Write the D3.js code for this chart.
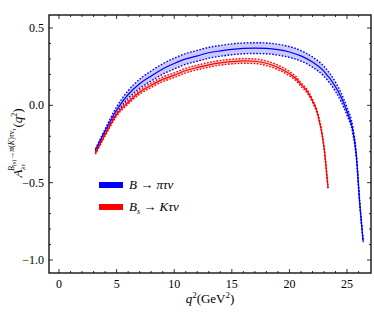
<!DOCTYPE html>
<html>
<head>
<meta charset="utf-8">
<script src="https://cdn.jsdelivr.net/npm/d3@7"></script>
<style>
  body { margin: 0; background: #fff; }
  svg { display: block; font-family: "Liberation Serif", "DejaVu Serif", serif; }
</style>
</head>
<body>
<svg id="chart" width="374" height="312"></svg>
<script>
// B -> pi tau nu
var q2Pi   = [3.16, 4, 5, 6, 7, 8, 9, 10, 11, 12, 13, 14, 15, 16, 17, 18, 19, 20, 21, 22, 23, 24, 24.5, 25, 25.5, 25.8, 26.1, 26.4];
var aPi    = [-0.29, -0.165, -0.03, 0.07, 0.14, 0.19, 0.235, 0.27, 0.30, 0.32, 0.34, 0.352, 0.362, 0.368, 0.37, 0.368, 0.36, 0.345, 0.32, 0.28, 0.22, 0.12, 0.05, -0.04, -0.16, -0.32, -0.63, -0.88];
var errPi  = [0.008, 0.012, 0.02, 0.025, 0.029, 0.032, 0.034, 0.035, 0.035, 0.035, 0.035, 0.035, 0.035, 0.035, 0.035, 0.035, 0.035, 0.035, 0.034, 0.033, 0.032, 0.03, 0.028, 0.025, 0.022, 0.018, 0.012, 0.005];

// Bs -> K tau nu
var q2K    = [3.16, 4, 5, 6, 7, 8, 9, 10, 11, 12, 13, 14, 15, 16, 17, 18, 19, 20, 20.6, 21, 21.5, 22, 22.5, 23, 23.35];
var aK     = [-0.31, -0.19, -0.06, 0.02, 0.085, 0.13, 0.168, 0.195, 0.225, 0.245, 0.262, 0.275, 0.283, 0.287, 0.285, 0.272, 0.245, 0.205, 0.17, 0.135, 0.095, 0.03, -0.07, -0.27, -0.535];
var errK   = [0.006, 0.008, 0.01, 0.012, 0.013, 0.014, 0.015, 0.015, 0.015, 0.015, 0.015, 0.015, 0.015, 0.015, 0.015, 0.015, 0.015, 0.014, 0.013, 0.012, 0.011, 0.01, 0.008, 0.006, 0.004];

var xTicks = [0, 5, 10, 15, 20, 25];
var yTicks = [-1.0, -0.5, 0.0, 0.5];
var legendLabels = ["B → πτν", "Bs → Kτν"];

var svg = d3.select("#chart");
var pL = 49, pR = 371, pT = 15, pB = 273;

var x = d3.scaleLinear().domain([-0.87, 27.08]).range([pL, pR]);
var y = d3.scaleLinear().domain([-1.084, 0.584]).range([pB, pT]);

var plot = svg.append("g");

function drawSeries(q2, a, err, col, fillCol) {
    var pts = q2.map(function(d, i) { return {q: d, a: a[i], e: err[i]}; });
    var area = d3.area().curve(d3.curveMonotoneX)
        .x(function(d) { return x(d.q); })
        .y0(function(d) { return y(d.a - d.e); })
        .y1(function(d) { return y(d.a + d.e); });
    plot.append("path").datum(pts)
        .attr("d", area)
        .style("fill", fillCol)
        .style("stroke", "none");

    var lineUp = d3.line().curve(d3.curveMonotoneX)
        .x(function(d) { return x(d.q); })
        .y(function(d) { return y(d.a + d.e); });
    var lineLo = d3.line().curve(d3.curveMonotoneX)
        .x(function(d) { return x(d.q); })
        .y(function(d) { return y(d.a - d.e); });
    var lineMid = d3.line().curve(d3.curveMonotoneX)
        .x(function(d) { return x(d.q); })
        .y(function(d) { return y(d.a); });

    [lineUp, lineLo].forEach(function(l) {
        plot.append("path").datum(pts)
            .attr("d", l)
            .style("fill", "none")
            .style("stroke", col)
            .style("stroke-width", 1.4)
            .style("stroke-dasharray", "1.6,1.6");
    });
    plot.append("path").datum(pts)
        .attr("d", lineMid)
        .style("fill", "none")
        .style("stroke", col)
        .style("stroke-width", 1.2);
}

drawSeries(q2Pi, aPi, errPi, "#0000ff", "rgba(80,80,255,0.3)");
drawSeries(q2K, aK, errK, "#ff0000", "rgba(255,80,80,0.3)");

// frame
svg.append("rect")
    .attr("x", pL).attr("y", pT)
    .attr("width", pR - pL).attr("height", pB - pT)
    .style("fill", "none").style("stroke", "#000").style("stroke-width", 1.3);

// ticks, inside, on all four sides
var tickG = svg.append("g").style("stroke", "#000").style("stroke-width", 0.8);
d3.range(0, 27, 1).forEach(function(v) {
    var major = v % 5 === 0, len = major ? 4 : 2;
    tickG.append("line").attr("x1", x(v)).attr("x2", x(v)).attr("y1", pB).attr("y2", pB - len);
    tickG.append("line").attr("x1", x(v)).attr("x2", x(v)).attr("y1", pT).attr("y2", pT + len);
});
d3.range(-10, 6, 1).forEach(function(k) {
    var v = k / 10, major = k % 5 === 0, len = major ? 4 : 2;
    tickG.append("line").attr("x1", pL).attr("x2", pL + len).attr("y1", y(v)).attr("y2", y(v));
    tickG.append("line").attr("x1", pR).attr("x2", pR - len).attr("y1", y(v)).attr("y2", y(v));
});

// tick labels
svg.selectAll("text.xt").data(xTicks).enter().append("text")
    .attr("class", "xt")
    .attr("x", function(d) { return x(d); })
    .attr("y", 288)
    .attr("text-anchor", "middle")
    .style("font-size", "12px")
    .text(function(d) { return d; });

svg.selectAll("text.yt").data(yTicks).enter().append("text")
    .attr("class", "yt")
    .attr("x", 44)
    .attr("y", function(d) { return y(d) + 4; })
    .attr("text-anchor", "end")
    .style("font-size", "12px")
    .text(function(d) { return d3.format(".1f")(d).replace("-", "−"); });

// x title
var xt = svg.append("text")
    .attr("x", 210).attr("y", 303)
    .attr("text-anchor", "middle")
    .style("font-size", "13px");
xt.append("tspan").style("font-style", "italic").text("q");
xt.append("tspan").attr("dy", -5).style("font-size", "9px").text("2");
xt.append("tspan").attr("dy", 5).text("(GeV");
xt.append("tspan").attr("dy", -5).style("font-size", "9px").text("2");
xt.append("tspan").attr("dy", 5).text(")");

// y title
var yt = svg.append("text")
    .attr("transform", "translate(22,143) rotate(-90)")
    .attr("text-anchor", "middle")
    .style("font-size", "13px");
yt.append("tspan").style("font-style", "italic").text("A");
yt.append("tspan").attr("dy", 3).style("font-size", "7px").style("font-style", "italic").text("λτ");
yt.append("tspan").attr("dx", -7).attr("dy", -11).style("font-size", "8px").style("font-style", "italic").text("B");
yt.append("tspan").attr("dy", 2).style("font-size", "6px").text("(s)");
yt.append("tspan").attr("dy", -2).style("font-size", "8px").text("→");
yt.append("tspan").style("font-size", "8px").style("font-style", "italic").text("π");
yt.append("tspan").style("font-size", "8px").text("(");
yt.append("tspan").style("font-size", "8px").style("font-style", "italic").text("K");
yt.append("tspan").style("font-size", "8px").text(")");
yt.append("tspan").style("font-size", "8px").style("font-style", "italic").text("τν");
yt.append("tspan").attr("dy", 2).style("font-size", "6px").style("font-style", "italic").text("τ");
yt.append("tspan").attr("dx", 1).attr("dy", 6).text("(");
yt.append("tspan").style("font-style", "italic").text("q");
yt.append("tspan").attr("dy", -5).style("font-size", "8px").text("2");
yt.append("tspan").attr("dy", 5).text(")");

// legend
var legCols = ["#0000ff", "#ff0000"];
var leg = svg.append("g");
legendLabels.forEach(function(lab, i) {
    var ly = 185 + i * 22;
    leg.append("rect")
        .attr("x", 99).attr("y", ly - 3).attr("width", 24).attr("height", 6)
        .style("fill", legCols[i]);
    var t = leg.append("text")
        .attr("x", 129).attr("y", ly + 4)
        .style("font-size", "13px");
    if (i === 0) {
        t.append("tspan").style("font-style", "italic").text("B");
        t.append("tspan").text(" → ");
        t.append("tspan").style("font-style", "italic").text("πτν");
    } else {
        t.append("tspan").style("font-style", "italic").text("B");
        t.append("tspan").attr("dy", 3).style("font-size", "8px").style("font-style", "italic").text("s");
        t.append("tspan").attr("dy", -3).text(" → ");
        t.append("tspan").style("font-style", "italic").text("Kτν");
    }
});
</script>
</body>
</html>
